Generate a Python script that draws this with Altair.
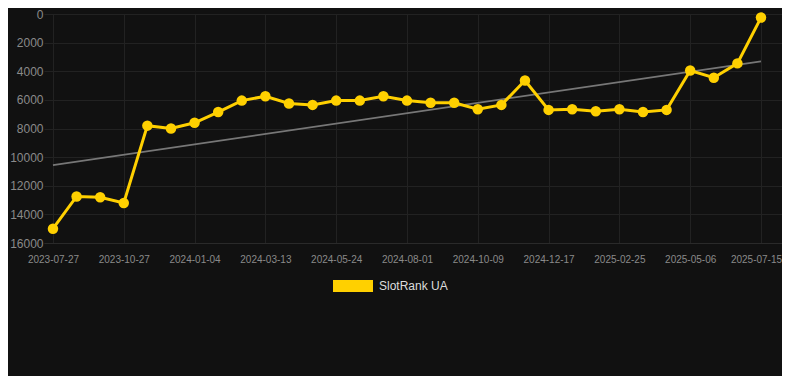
import altair as alt
import pandas as pd

# data
dates = [
    "2023-07-27", "2023-08-27", "2023-09-27", "2023-10-27", "2023-11-19",
    "2023-12-12", "2024-01-04", "2024-01-27", "2024-02-19", "2024-03-13",
    "2024-04-06", "2024-04-30", "2024-05-24", "2024-06-16", "2024-07-09",
    "2024-08-01", "2024-08-24", "2024-09-16", "2024-10-09", "2024-11-01",
    "2024-11-24", "2024-12-17", "2025-01-09", "2025-02-02", "2025-02-25",
    "2025-03-20", "2025-04-13", "2025-05-06", "2025-05-29", "2025-06-22",
    "2025-07-15",
]
ranks = [
    15000, 12750, 12800, 13200, 7800,
    8000, 7600, 6850, 6050, 5750,
    6250, 6350, 6050, 6050, 5750,
    6050, 6200, 6200, 6650, 6350,
    4650, 6700, 6650, 6800, 6650,
    6850, 6700, 3950, 4450, 3450,
    250,
]
series_name = "SlotRank UA"
y_ticks = [0, 2000, 4000, 6000, 8000, 10000, 12000, 14000, 16000]

df = pd.DataFrame({
    "idx": list(range(len(dates))),
    "date": dates,
    "rank": ranks,
    "series": [series_name] * len(dates),
})

label_idx = list(range(0, len(dates), 3))
label_expr = "[" + ",".join(f"'{d}'" for d in dates) + "][datum.value]"
last_idx = len(dates) - 1

x_enc = alt.X(
    "idx:Q",
    scale=alt.Scale(domain=[-0.38, 30.89], nice=False, zero=False),
    axis=alt.Axis(
        values=label_idx, labelExpr=label_expr, title=None,
        grid=True, gridColor="#222222", domain=True, domainColor="#2a2a2a",
        ticks=False, labelColor="#8a8a8a", labelFontSize=10, labelPadding=11,
        labelFont="Liberation Sans",
        labelOffset={"condition": {"test": f"datum.value == {last_idx}", "value": -5}, "value": 0},
    ),
)
y_enc = alt.Y(
    "rank:Q",
    scale=alt.Scale(domain=[0, 16000], reverse=True, nice=False),
    axis=alt.Axis(
        values=y_ticks, title=None, grid=True, gridColor="#222222",
        domain=False, ticks=False, labelColor="#8a8a8a", labelFontSize=12,
        labelPadding=1, labelFont="Liberation Sans", format="d",
    ),
)

base = alt.Chart(df)

trend = base.transform_regression("idx", "rank", extent=[0, 30]).mark_line(
    color="#777777", strokeWidth=1.8
).encode(x=x_enc, y=y_enc)

line = base.mark_line(color="#FFD000", strokeWidth=3).encode(x=x_enc, y=y_enc)

points = base.mark_circle(size=110, opacity=1).encode(
    x=x_enc,
    y=y_enc,
    color=alt.Color(
        "series:N",
        scale=alt.Scale(range=["#FFD000"]),
        legend=alt.Legend(
            orient="none", legendX=289, legendY=252, title=None,
            symbolType="M-1,-0.3H1V0.3H-1Z", symbolSize=1600,
            symbolFillColor="#FFD000", symbolStrokeWidth=0, symbolOpacity=1,
            labelColor="#dddddd", labelFontSize=12, labelFont="Liberation Sans",
            labelOffset=6, padding=0,
        ),
    ),
)

chart = (
    alt.layer(trend, line, points)
    .properties(
        width=738, height=229,
        background="#111111",
        padding={"left": 36, "top": 6, "right": 0, "bottom": 133},
        autosize=alt.AutoSizeParams(type="none"),
    )
    .configure_view(stroke=None)
)

chart.save("out.html", embed_options={"renderer": "svg", "actions": False})
